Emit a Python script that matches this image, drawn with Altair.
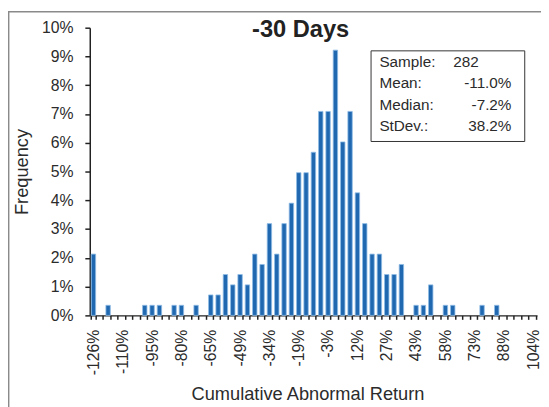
import json
import altair as alt
import pandas as pd

# ---- data ----
bin_index = list(range(61))
freq_pct = [
    2.13, 0, 0.35, 0, 0, 0, 0, 0.35, 0.35, 0.35,
    0, 0.35, 0.35, 0, 0.35, 0, 0.71, 0.71, 1.42, 1.06,
    1.42, 1.06, 2.13, 1.77, 3.19, 2.13, 3.19, 3.90, 4.96, 4.96,
    5.67, 7.09, 7.09, 9.22, 6.03, 7.09, 4.26, 3.19, 2.13, 2.13,
    1.42, 1.42, 1.77, 0, 0.35, 0.35, 1.06, 0, 0.35, 0.35,
    0, 0, 0, 0.35, 0, 0.35, 0, 0, 0, 0,
    0,
]
x_tick_labels = ["-126%", "-110%", "-95%", "-80%", "-65%", "-49%", "-34%", "-19%",
                 "-3%", "12%", "27%", "43%", "58%", "73%", "88%", "104%"]
y_ticks = [0, 1, 2, 3, 4, 5, 6, 7, 8, 9, 10]
title_text = "-30 Days"
stat_names = ["Sample:", "Mean:", "Median:", "StDev.:"]
stat_values = ["282", "-11.0%", "-7.2%", "38.2%"]

FONT = "Liberation Sans"
TXT = "#2b2b2b"

df = pd.DataFrame({"bin": bin_index, "freq": freq_pct})
df = df[df["freq"] > 0]

label_expr = ("datum.value % 4 === 0 ? " + json.dumps(x_tick_labels) +
              "[datum.value / 4] : ''")

bars = alt.Chart(df).mark_bar(color="#2068b0", stroke="#8ebbe6", strokeWidth=0.8).encode(
    x=alt.X("bin:O",
            scale=alt.Scale(domain=bin_index, paddingInner=0.4, paddingOuter=0.2),
            axis=alt.Axis(title="Cumulative Abnormal Return", labelExpr=label_expr,
                          labelAngle=270, labelOverlap=False, tickBand="extent",
                          tickSize=4, labelPadding=10, labelFontSize=16,
                          titleFontSize=18.5, titleFontWeight="normal",
                          titleX=221, titleY=79, titleBaseline="middle",
                          titleAlign="center")),
    y=alt.Y("freq:Q",
            scale=alt.Scale(domain=[0, 10], nice=False),
            axis=alt.Axis(title="Frequency", values=y_ticks,
                          labelExpr="datum.value + '%'", tickSize=5, labelPadding=12,
                          labelFontSize=16, titleFontSize=18.5, titleFontWeight="normal",
                          titleX=-69, titleY=146, titleAngle=270,
                          titleBaseline="middle", titleAlign="center", grid=False)),
)

one = pd.DataFrame({"k": [0]})

title = alt.Chart(one).mark_text(
    font=FONT, fontSize=24, fontWeight="bold", color="#222", align="center",
    baseline="alphabetic").encode(
    x=alt.value(214), y=alt.value(9), text=alt.value(title_text))

box = alt.Chart(one).mark_rect(fill="white", stroke="#333", strokeWidth=1).encode(
    x=alt.value(285.5), x2=alt.value(441.5), y=alt.value(23.5), y2=alt.value(115.5))

names = alt.Chart(one).mark_text(
    font=FONT, fontSize=15.5, color=TXT, align="left", baseline="alphabetic",
    lineBreak="\n", lineHeight=21.7).encode(
    x=alt.value(294), y=alt.value(40), text=alt.value("\n".join(stat_names)))

sample_val = alt.Chart(one).mark_text(
    font=FONT, fontSize=15.5, color=TXT, align="left", baseline="alphabetic").encode(
    x=alt.value(369), y=alt.value(40), text=alt.value(stat_values[0]))

vals = alt.Chart(one).mark_text(
    font=FONT, fontSize=15.5, color=TXT, align="right", baseline="alphabetic",
    lineBreak="\n", lineHeight=21.7).encode(
    x=alt.value(428), y=alt.value(61.7), text=alt.value("\n".join(stat_values[1:])))

frame = alt.Chart(one).mark_rect(fill="transparent", stroke="#8a8a8a", strokeWidth=1.5).encode(
    x=alt.value(-82.3), x2=alt.value(800), y=alt.value(-16.3), y2=alt.value(800))

chart = alt.layer(frame, bars, box, names, sample_val, vals, title).properties(
    width=454, height=292,
    autosize=alt.AutoSizeParams(type="none"),
    padding={"left": 83, "top": 17, "right": 4, "bottom": 90},
    background="white",
).configure_view(stroke="transparent").configure_axis(
    labelFont=FONT, titleFont=FONT, labelColor=TXT, titleColor=TXT,
    domainColor="#222", tickColor="#222", domainWidth=1.5, tickWidth=1.5,
)

chart.save("out.html", embed_options={"renderer": "svg", "actions": False})
